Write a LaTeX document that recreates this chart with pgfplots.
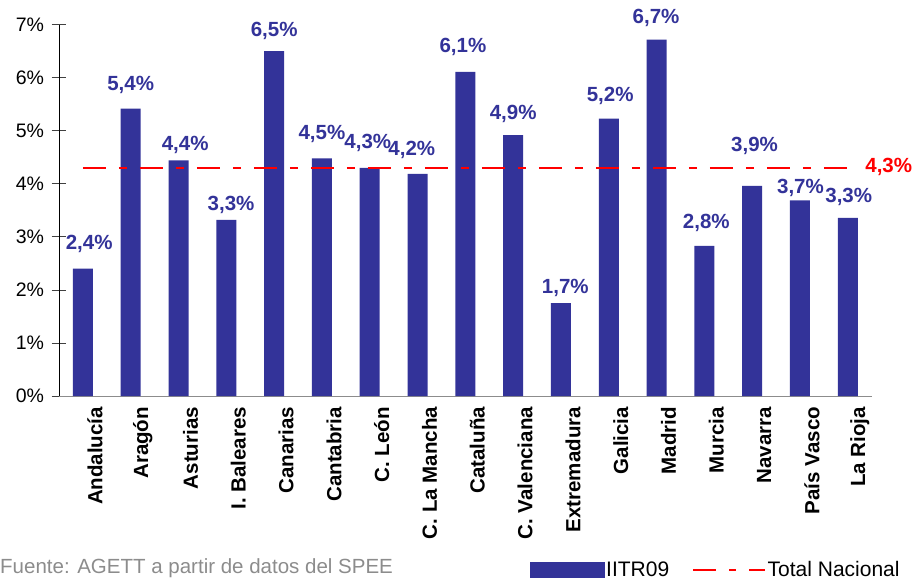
\documentclass[border=0pt]{standalone}
\usepackage{fontspec}
\setmainfont{Liberation Sans}
\usepackage{pgfplots}
\usepackage{pgfplotstable}
\pgfplotsset{compat=1.18}

\definecolor{barblue}{RGB}{51,51,153}
\definecolor{natred}{RGB}{255,0,0}
\definecolor{srcgray}{RGB}{140,140,140}

% bar heights (%)
\pgfplotstableread{
x v
0  2.40
1  5.42
2  4.44
3  3.32
4  6.50
5  4.48
6  4.30
7  4.19
8  6.11
9  4.92
10 1.75
11 5.23
12 6.72
13 2.83
14 3.96
15 3.69
16 3.36
}\bars

% value labels, placed as in the original
\pgfplotstableread{
x y lab
0.13  2.87 {2,4\%}
1.00  5.87 {5,4\%}
2.14  4.74 {4,4\%}
3.10  3.60 {3,3\%}
4.00  6.89 {6,5\%}
5.00  4.94 {4,5\%}
5.96  4.77 {4,3\%}
6.88  4.64 {4,2\%}
7.95  6.58 {6,1\%}
9.00  5.32 {4,9\%}
10.09 2.04 {1,7\%}
11.03 5.66 {5,2\%}
11.99 7.13 {6,7\%}
13.04 3.26 {2,8\%}
14.05 4.72 {3,9\%}
15.01 3.92 {3,7\%}
16.02 3.75 {3,3\%}
}\labels

\begin{document}
\begin{tikzpicture}
\useasboundingbox (0,0) rectangle (912bp,581bp);
\begin{axis}[
  at={(59bp,185bp)}, anchor=south west,
  scale only axis, width=812.7bp, height=371.3bp,
  xmin=-0.5, xmax=16.5, ymin=0, ymax=7,
  clip=false,
  axis x line=bottom, axis y line=left,
  x axis line style={-, draw=black!45},
  y axis line style={-, draw=black},
  xtick={0,...,16},
  xticklabels={Andalucía, Aragón, Asturias, I. Baleares, Canarias, Cantabria,
    C. León, C. La Mancha, Cataluña, C. Valenciana, Extremadura, Galicia,
    Madrid, Murcia, Navarra, País Vasco, La Rioja},
  xtick style={draw=none},
  xticklabel style={rotate=90, anchor=east, yshift=-12bp,
    font=\fontsize{20.5bp}{24bp}\selectfont\bfseries},
  extra x ticks={-0.5,0.5,...,16.5},
  extra x tick labels={},
  extra x tick style={tick align=outside, major tick length=7bp,
    tick style={draw=black!30, line width=1bp}},
  ytick={0,1,...,7},
  yticklabels={0\%,1\%,2\%,3\%,4\%,5\%,6\%,7\%},
  tick align=center,
  major tick length=15bp,
  ytick style={draw=black!75, line width=0.8bp},
  yticklabel style={font=\fontsize{19.5bp}{22bp}\selectfont, xshift=-4bp},
  legend columns=2,
  legend style={draw=none, fill=none, at={(0.5795,-0.468)}, anchor=west,
    font=\fontsize{21bp}{24bp}\selectfont, inner sep=0pt,
    nodes={inner sep=1bp},
    /tikz/every even column/.append style={column sep=22bp}},
]
\addplot[ybar, bar width=20bp, fill=barblue, draw=none,
  legend image code/.code={\fill[barblue] (0bp,-8bp) rectangle (75bp,8bp);}]
  table[x=x, y=v] {\bars};
\addlegendentry{IITR09}

\addplot[natred, line width=2.5bp, dash pattern=on 23bp off 13bp on 8bp off 13bp,
  legend image code/.code={\draw[natred, line width=2.5bp,
    dash pattern=on 23bp off 13bp on 7bp off 13bp] (0bp,0bp) -- (72bp,0bp);}]
  coordinates {(0,4.3) (16,4.3)}
  node[pos=1, anchor=west, xshift=13bp, yshift=1bp, text=natred,
    font=\fontsize{20.5bp}{24bp}\selectfont\bfseries] {4,3\%};
\addlegendentry{Total Nacional}

\addplot[forget plot, only marks, mark=none, nodes near coords,
  point meta=explicit symbolic,
  nodes near coords style={anchor=center, text=barblue,
    font=\fontsize{20.5bp}{24bp}\selectfont\bfseries}]
  table[x=x, y=y, meta=lab] {\labels};

\node[anchor=west, text=srcgray, inner sep=0pt,
  font=\fontsize{20.5bp}{22bp}\selectfont]
  at (axis description cs:-0.0726,-0.464) {Fuente: AGETT a partir de datos del SPEE};
\end{axis}
\end{tikzpicture}
\end{document}
